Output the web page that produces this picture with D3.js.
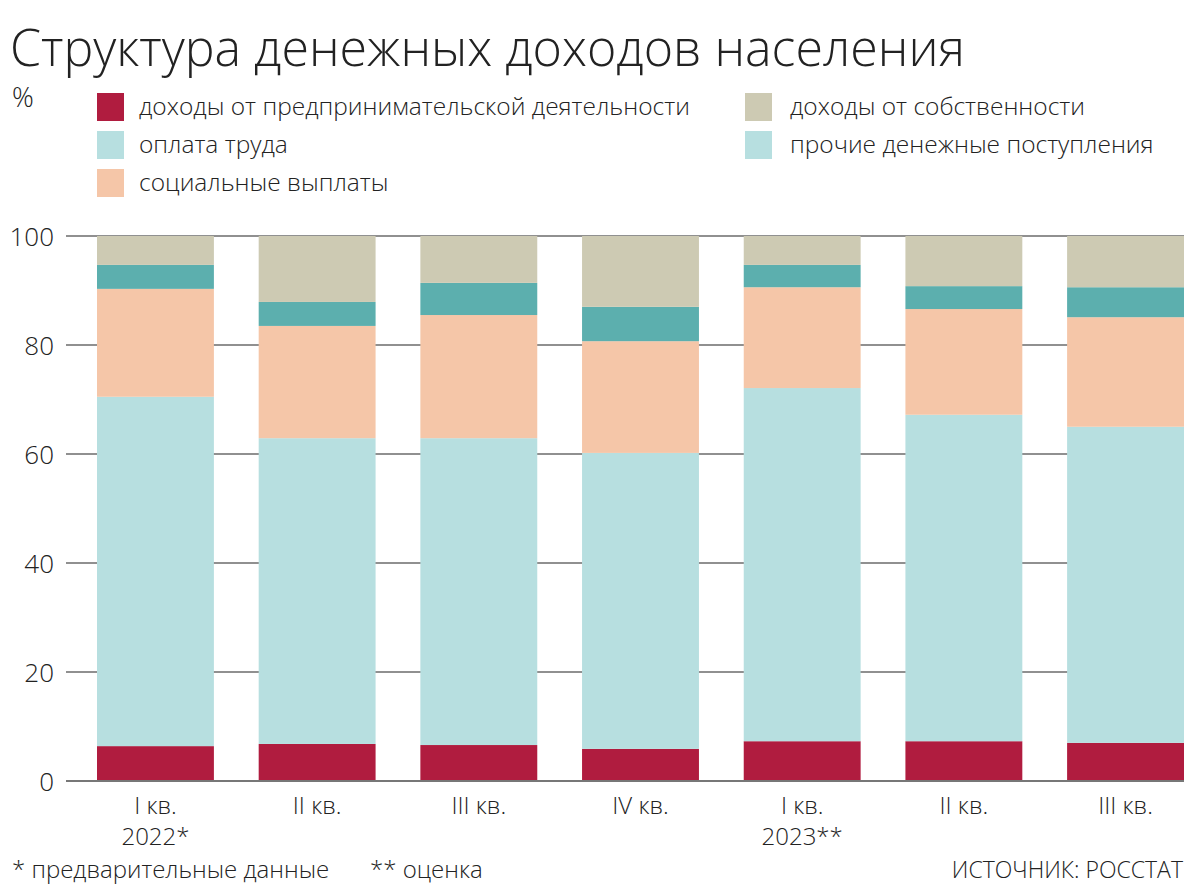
<!DOCTYPE html>
<html><head><meta charset="utf-8">
<script src="https://cdn.jsdelivr.net/npm/d3@7"></script>
<style>
body{margin:0;background:#fff;}
text{font-family:"Open Sans",sans-serif;font-weight:300;fill:#222;}
</style></head>
<body>
<svg id="chart" width="1198" height="892"></svg>
<script>
const quarters = ["I кв.","II кв.","III кв.","IV кв.","I кв.","II кв.","III кв."];
const years = ["2022*","","","","2023**","",""];
const entrepreneurial = [6.4, 6.8, 6.6, 5.9, 7.3, 7.3, 7.0];
const wages = [64.1, 56.1, 56.3, 54.3, 64.8, 59.9, 58.0];
const social = [19.8, 20.6, 22.6, 20.5, 18.5, 19.4, 20.1];
const other = [4.4, 4.4, 5.9, 6.3, 4.1, 4.2, 5.5];
const property = [5.3, 12.1, 8.6, 13.0, 5.3, 9.2, 9.4];
const seriesNames = ["доходы от предпринимательской деятельности","оплата труда","социальные выплаты","прочие денежные поступления","доходы от собственности"];
const seriesColors = ["#b01c3f","#b7dfe0","#f5c6a8","#5cafae","#cdcab3"];
const legendColors = ["#b01c3f","#b7dfe0","#f5c6a8","#b7dfe0","#cdcab3"];
const yTicks = [0,20,40,60,80,100];

const svg = d3.select("#chart");
const seriesKeys = ["e","w","s","o","p"];
const rows = quarters.map((q,i)=>({i, e:entrepreneurial[i], w:wages[i], s:social[i], o:other[i], p:property[i]}));
const stack = d3.stack().keys(seriesKeys)(rows);

const x = d3.scaleBand().domain(d3.range(quarters.length)).range([97,1184]).paddingInner(0.277).paddingOuter(0);
const y = d3.scaleLinear().domain([0,100]).range([781,236]);

// title
svg.append("text").attr("x",10).attr("y",66).attr("font-size",52)
  .attr("textLength",955).attr("lengthAdjust","spacingAndGlyphs")
  .text("Структура денежных доходов населения");
svg.append("text").attr("x",12).attr("y",107).attr("font-size",27).text("%");

// legend
const legendPos = [[97,93],[97,131],[97,169],[745,131],[745,93]];
seriesNames.forEach((n,i)=>{
  const g = svg.append("g").attr("transform",`translate(${legendPos[i][0]},${legendPos[i][1]})`);
  g.append("rect").attr("width",27).attr("height",28).attr("fill",legendColors[i]);
  g.append("text").attr("x",i<3?42:45).attr("y",22).attr("font-size",24.5).text(n);
});

// gridlines
svg.append("g").selectAll("line").data(yTicks.filter(d=>d>0)).join("line")
  .attr("x1",66).attr("x2",1184).attr("y1",d=>y(d)).attr("y2",d=>y(d))
  .attr("stroke","#222").attr("stroke-width",1.2);

// bars
svg.append("g").selectAll("g").data(stack).join("g")
  .attr("fill",(d,i)=>seriesColors[i])
  .selectAll("rect").data(d=>d).join("rect")
  .attr("x",d=>x(d.data.i)).attr("width",x.bandwidth())
  .attr("y",d=>y(d[1])).attr("height",d=>y(d[0])-y(d[1]));

// baseline
svg.append("line").attr("x1",66).attr("x2",1184).attr("y1",y(0)).attr("y2",y(0)).attr("stroke","#777").attr("stroke-width",2);

// y axis labels
const yAxis = d3.axisLeft(y).tickValues(yTicks).tickSize(0).tickPadding(0);
const ya = svg.append("g").attr("transform","translate(54,0)").call(yAxis);
ya.select(".domain").remove();
ya.selectAll("text").attr("font-size",26).attr("fill","#222").style("font-family","'Open Sans',sans-serif").style("font-weight",300).attr("dy","0.35em");

// x labels
const xAxis = d3.axisBottom(x).tickFormat(i=>quarters[i]).tickSize(0).tickPadding(0);
const xa = svg.append("g").call(xAxis);
xa.select(".domain").remove();
xa.selectAll("text").remove();
xa.selectAll(".tick").each(function(i){
  const g = d3.select(this);
  g.append("text").attr("text-anchor","middle").attr("y",814).attr("font-size",24).text(quarters[i]);
  if(years[i]) g.append("text").attr("text-anchor","middle").attr("y",845).attr("font-size",24).text(years[i]);
});

// footnotes
svg.append("text").attr("x",12).attr("y",878).attr("font-size",24).text("* предварительные данные");
svg.append("text").attr("x",370).attr("y",878).attr("font-size",24).text("** оценка");
svg.append("text").attr("x",1183).attr("y",878).attr("font-size",23).attr("text-anchor","end").text("ИСТОЧНИК: РОССТАТ");
</script>
</body></html>
